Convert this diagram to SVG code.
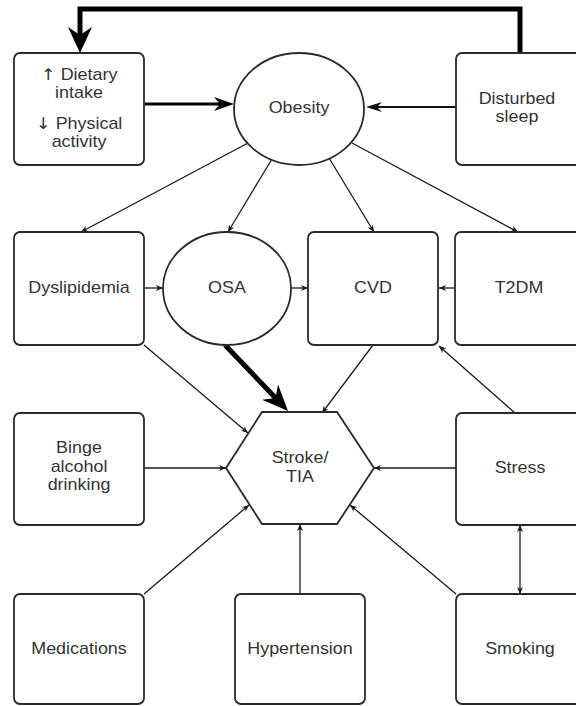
<svg xmlns="http://www.w3.org/2000/svg" width="576" height="706" viewBox="0 0 576 706">
<style>
.box{fill:#fff;stroke:#2a2a2a;stroke-width:1.8}
.t{font-family:"Liberation Sans",Arial,Helvetica,sans-serif;font-size:16px;fill:#333;text-anchor:middle}
.ar{font-family:"DejaVu Sans","Liberation Sans",sans-serif;font-weight:normal;fill:#333}
.c{fill:none;stroke:#1a1a1a;stroke-width:1.3}
</style>
<defs>
<marker id="tiny" markerUnits="userSpaceOnUse" markerWidth="7" markerHeight="6" viewBox="0 0 7 6" refX="7" refY="3" orient="auto-start-reverse"><path d="M0,0 L7,3 L0,6 L2,3 z" fill="#1a1a1a"/></marker>
<marker id="big" markerUnits="userSpaceOnUse" markerWidth="26" markerHeight="24" viewBox="0 0 26 24" refX="9" refY="12" orient="auto"><path d="M0,0 L26,12 L0,24 L8,12 z" fill="#000"/></marker>
<marker id="osa" markerUnits="userSpaceOnUse" markerWidth="26" markerHeight="22" viewBox="0 0 26 22" refX="9" refY="11" orient="auto"><path d="M0,0 L26,11 L0,22 L8,11 z" fill="#000"/></marker>
<marker id="med" markerUnits="userSpaceOnUse" markerWidth="20" markerHeight="14" viewBox="0 0 20 14" refX="7" refY="7" orient="auto"><path d="M0,0 L20,7 L0,14 L6,7 z" fill="#000"/></marker>
<marker id="sm" markerUnits="userSpaceOnUse" markerWidth="16" markerHeight="10" viewBox="0 0 16 10" refX="6" refY="5" orient="auto"><path d="M0,0 L16,5 L0,10 L5,5 z" fill="#111"/></marker>
</defs>
<rect width="576" height="706" fill="#fff"/>

<g id="connectors">
<path d="M520,53 L520,9 L80,9 L80,36" fill="none" stroke="#000" stroke-width="5" stroke-linejoin="miter" marker-end="url(#big)"/>
<line x1="145" y1="104" x2="221" y2="104" stroke="#000" stroke-width="3" marker-end="url(#med)"/>
<line x1="456" y1="107" x2="376" y2="107" stroke="#111" stroke-width="2.2" marker-end="url(#sm)"/>
<line class="c" x1="248" y1="143" x2="81" y2="232" marker-end="url(#tiny)"/>
<line class="c" x1="272" y1="159" x2="228" y2="232" marker-end="url(#tiny)"/>
<line class="c" x1="329" y1="158" x2="374" y2="232" marker-end="url(#tiny)"/>
<line class="c" x1="352" y1="143" x2="518" y2="232" marker-end="url(#tiny)"/>
<line class="c" x1="145" y1="288" x2="163" y2="288" marker-end="url(#tiny)"/>
<line class="c" x1="291" y1="288" x2="308" y2="288" marker-end="url(#tiny)"/>
<line class="c" x1="455" y1="288" x2="439" y2="288" marker-end="url(#tiny)"/>
<line x1="225" y1="345" x2="276.3" y2="398.7" stroke="#000" stroke-width="5" marker-end="url(#osa)"/>
<line class="c" x1="144" y1="345" x2="248" y2="433" marker-end="url(#tiny)"/>
<line class="c" x1="373" y1="345" x2="322" y2="413" marker-end="url(#tiny)"/>
<line class="c" x1="515" y1="413" x2="439" y2="346" marker-end="url(#tiny)"/>
<line class="c" x1="145" y1="468" x2="226" y2="468" marker-end="url(#tiny)"/>
<line class="c" x1="456" y1="468" x2="374" y2="468" marker-end="url(#tiny)"/>
<line class="c" x1="144" y1="594" x2="249" y2="505" marker-end="url(#tiny)"/>
<line class="c" x1="300" y1="594" x2="300" y2="524" marker-end="url(#tiny)"/>
<line class="c" x1="456" y1="594" x2="350" y2="505" marker-end="url(#tiny)"/>
<line class="c" x1="520" y1="525" x2="520" y2="594" marker-start="url(#tiny)" marker-end="url(#tiny)"/>
</g>

<g id="dietary">
<rect class="box" x="14" y="53" width="130" height="112" rx="6"/>
<g transform="translate(79,0) scale(1.12,1)"><text class="t" x="0" y="80"><tspan class="ar">↑</tspan> Dietary</text><text class="t" x="0" y="98">intake</text><text class="t" x="0" y="129"><tspan class="ar">↓</tspan> Physical</text><text class="t" x="0" y="147">activity</text></g>
</g>
<g id="obesity">
<ellipse class="box" cx="299" cy="109" rx="65" ry="56"/>
<g transform="translate(299,0) scale(1.12,1)"><text class="t" x="0" y="113">Obesity</text></g>
</g>
<g id="sleep">
<rect class="box" x="456" y="53" width="130" height="112" rx="6"/>
<g transform="translate(517,0) scale(1.12,1)"><text class="t" x="0" y="104">Disturbed</text><text class="t" x="0" y="122">sleep</text></g>
</g>
<g id="dyslipidemia">
<rect class="box" x="14" y="232" width="130" height="113" rx="6"/>
<g transform="translate(79,0) scale(1.12,1)"><text class="t" x="0" y="293">Dyslipidemia</text></g>
</g>
<g id="osa-node">
<ellipse class="box" cx="227" cy="288.5" rx="64" ry="56.5"/>
<g transform="translate(227,0) scale(1.12,1)"><text class="t" x="0" y="293">OSA</text></g>
</g>
<g id="cvd">
<rect class="box" x="308" y="232" width="130" height="113" rx="6"/>
<g transform="translate(373,0) scale(1.12,1)"><text class="t" x="0" y="293">CVD</text></g>
</g>
<g id="t2dm">
<rect class="box" x="455" y="232" width="130" height="113" rx="6"/>
<g transform="translate(519,0) scale(1.12,1)"><text class="t" x="0" y="293">T2DM</text></g>
</g>
<g id="stroke">
<polygon class="box" points="262,412 337,412 374,468 337,524 262,524 226,468"/>
<g transform="translate(300,0) scale(1.12,1)"><text class="t" x="0" y="463">Stroke/</text><text class="t" x="0" y="482">TIA</text></g>
</g>
<g id="binge">
<rect class="box" x="14" y="413" width="130" height="112" rx="6"/>
<g transform="translate(79,0) scale(1.12,1)"><text class="t" x="0" y="453">Binge</text><text class="t" x="0" y="472">alcohol</text><text class="t" x="0" y="490">drinking</text></g>
</g>
<g id="stress">
<rect class="box" x="456" y="413" width="130" height="112" rx="6"/>
<g transform="translate(520,0) scale(1.12,1)"><text class="t" x="0" y="473">Stress</text></g>
</g>
<g id="medications">
<rect class="box" x="14" y="594" width="130" height="110" rx="6"/>
<g transform="translate(79,0) scale(1.12,1)"><text class="t" x="0" y="654">Medications</text></g>
</g>
<g id="hypertension">
<rect class="box" x="235" y="594" width="130" height="110" rx="6"/>
<g transform="translate(300,0) scale(1.12,1)"><text class="t" x="0" y="654">Hypertension</text></g>
</g>
<g id="smoking">
<rect class="box" x="456" y="594" width="130" height="110" rx="6"/>
<g transform="translate(520,0) scale(1.12,1)"><text class="t" x="0" y="654">Smoking</text></g>
</g>
</svg>
